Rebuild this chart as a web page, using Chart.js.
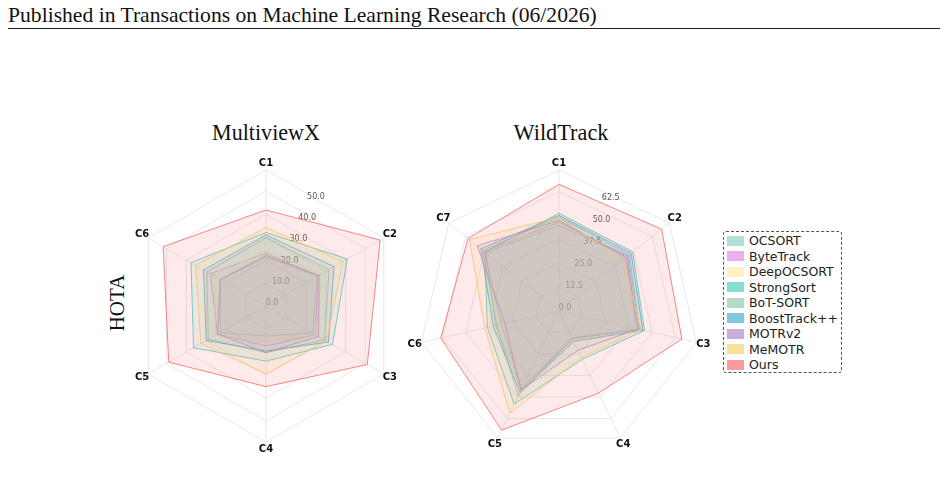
<!DOCTYPE html>
<html>
<head>
<meta charset="utf-8">
<script src="https://cdn.jsdelivr.net/npm/chart.js@4.4.1/dist/chart.umd.min.js"></script>
<style>
body { margin:0; width:948px; height:481px; background:#fff; position:relative; overflow:hidden; font-family:"DejaVu Sans", sans-serif; }
.abs { position:absolute; }
.serif { font-family:"Liberation Serif", serif; color:#111; white-space:nowrap; line-height:1; }
#head { left:8px; top:5px; font-size:20px; }
#rule { left:8px; top:28px; width:932px; height:1px; background:#222; }
#t1, #t2 { top:122px; font-size:22px; }
#hota { left:117px; top:303px; font-size:21px; transform:translate(-50%,-50%) rotate(-90deg); }
#legend { left:723px; top:231px; width:119px; height:142px; border:1px dashed #555; border-radius:3px; box-sizing:border-box; padding-top:1px; }
.item { display:flex; align-items:center; height:15.5px; font-size:12.5px; color:#222; }
.sw { width:17px; height:10px; margin:0 5px 0 3px; }
</style>
</head>
<body>
<div id="head" class="abs serif">Published in Transactions on Machine Learning Research (06/2026)</div>
<div id="rule" class="abs"></div>
<div id="t1" class="abs serif">MultiviewX</div>
<div id="t2" class="abs serif">WildTrack</div>
<div id="hota" class="abs serif">HOTA</div>
<canvas id="mvx" class="abs" style="left:90px;top:150px" width="350" height="320"></canvas>
<canvas id="wt" class="abs" style="left:400px;top:150px" width="320" height="320"></canvas>
<div id="legend" class="abs"></div>
<script>
// series + palette
const methods = ["OCSORT", "ByteTrack", "DeepOCSORT", "StrongSort", "BoT-SORT", "BoostTrack++", "MOTRv2", "MeMOTR", "Ours"];
const palette = ["#8dd3c7", "#e48ee4", "#fdeba8", "#52cec0", "#95c7b2", "#48b0d0", "#b28bcd", "#f1d66f", "#f97171"];

// MultiviewX (HOTA)
const mvxAxes = ["C1", "C2", "C3", "C4", "C5", "C6"];
const mvxTicks = [0, 10, 20, 30, 40, 50];
const mvxMax = 59.2;
const mvxOCSORT = [21.3, 25.9, 23.4, 13.1, 23.0, 23.0];
const mvxByteTrack = [23.0, 26.0, 25.0, 17.4, 24.4, 28.0];
const mvxDeepOCSORT = [24.1, 28.0, 25.0, 15.3, 25.5, 26.0];
const mvxStrongSort = [32.0, 40.9, 33.4, 24.0, 36.4, 37.7];
const mvxBoTSORT = [29.7, 31.7, 29.5, 20.3, 29.0, 29.7];
const mvxBoostTrack = [30.9, 34.2, 31.4, 19.6, 30.0, 31.4];
const mvxMOTRv2 = [22.0, 26.7, 26.4, 20.3, 24.4, 23.0];
const mvxMeMOTR = [34.2, 38.7, 30.5, 29.5, 32.7, 35.4];
const mvxOurs = [41.8, 57.4, 50.9, 35.1, 48.9, 51.7];

// WildTrack (HOTA)
const wtAxes = ["C1", "C2", "C3", "C4", "C5", "C6", "C7"];
const wtTicks = [0, 12.5, 25, 37.5, 50, 62.5];
const wtMax = 73.8;
const wtOCSORT = [44.8, 46.5, 43.0, 15.5, 45.5, 34.0, 49.0];
const wtByteTrack = [46.5, 46.0, 41.4, 16.5, 45.2, 31.0, 50.0];
const wtDeepOCSORT = [48.3, 44.0, 41.4, 16.8, 46.0, 33.0, 48.0];
const wtStrongSort = [51.2, 49.4, 45.9, 28.1, 54.1, 38.5, 49.6];
const wtBoTSORT = [49.1, 47.2, 43.2, 16.1, 49.3, 33.5, 51.1];
const wtBoostTrack = [50.0, 48.3, 45.0, 17.7, 47.2, 35.3, 52.3];
const wtMOTRv2 = [47.4, 45.0, 42.5, 22.8, 46.0, 29.1, 54.7];
const wtMeMOTR = [49.0, 42.7, 44.0, 26.9, 59.3, 39.8, 60.0];
const wtOurs = [66.3, 68.7, 66.0, 47.7, 69.2, 63.5, 60.9];

const mvxRows = [mvxOCSORT, mvxByteTrack, mvxDeepOCSORT, mvxStrongSort, mvxBoTSORT, mvxBoostTrack, mvxMOTRv2, mvxMeMOTR, mvxOurs];
const wtRows = [wtOCSORT, wtByteTrack, wtDeepOCSORT, wtStrongSort, wtBoTSORT, wtBoostTrack, wtMOTRv2, wtMeMOTR, wtOurs];

function rgba(hex, a) {
	const n = parseInt(hex.slice(1), 16);
	return "rgba(" + (n >> 16) + "," + ((n >> 8) & 255) + "," + (n & 255) + "," + a + ")";
}

// tick texts under the fills, axis names on top
const radarText = {
	id: "radarText",
	beforeDatasetsDraw(chart, args, opts) {
		const s = chart.scales.r, ctx = chart.ctx;
		const a = 22.5 * Math.PI / 180;
		ctx.save();
		ctx.font = '8px "DejaVu Sans"';
		ctx.fillStyle = "#555";
		ctx.textAlign = "center";
		ctx.textBaseline = "middle";
		opts.ticks.forEach(v => {
			const d = s.getDistanceFromCenterForValue(v);
			ctx.fillText(v.toFixed(1), s.xCenter + d * Math.sin(a) + 6, s.yCenter - d * Math.cos(a) - 3);
		});
		ctx.restore();
	},
	afterDraw(chart, args, opts) {
		const s = chart.scales.r, ctx = chart.ctx;
		ctx.save();
		ctx.font = 'bold 10px "DejaVu Sans"';
		ctx.fillStyle = "#111";
		ctx.textAlign = "center";
		ctx.textBaseline = "middle";
		chart.data.labels.forEach((lab, i) => {
			const p = s.getPointPosition(i, s.drawingArea + 7);
			ctx.fillText(lab, p.x, p.y);
		});
		ctx.restore();
	}
};

function radar(id, axes, rows, ticks, max, pad) {
	return new Chart(document.getElementById(id), {
		type: "radar",
		data: {
			labels: axes,
			datasets: rows.map((r, i) => ({
				label: methods[i],
				data: r,
				borderColor: rgba(palette[i], 0.85),
				backgroundColor: rgba(palette[i], i == 8 ? 0.15 : 0.12),
				borderWidth: 1,
				pointRadius: 0,
				fill: true,
				order: 9 - i
			}))
		},
		options: {
			responsive: false,
			animation: false,
			layout: { padding: pad },
			plugins: { legend: { display: false }, tooltip: { enabled: false }, radarText: { ticks: ticks } },
			scales: {
				r: {
					min: 0,
					max: max,
					afterBuildTicks: sc => { sc.ticks = ticks.concat([max]).map(v => ({ value: v })); },
					ticks: { display: false },
					pointLabels: { display: false },
					grid: { color: "#e2e2e2", lineWidth: 0.8 },
					angleLines: { color: "#e2e2e2", lineWidth: 0.8 }
				}
			}
		},
		plugins: [radarText]
	});
}

radar("mvx", mvxAxes, mvxRows, mvxTicks, mvxMax, { left: 40, top: 20, right: 37, bottom: 27 });
radar("wt", wtAxes, wtRows, wtTicks, wtMax, { left: 18, top: 20, right: 19, bottom: 17 });

// legend
const lg = document.getElementById("legend");
methods.forEach((m, i) => {
	const it = document.createElement("div");
	it.className = "item";
	it.innerHTML = '<span class="sw" style="background:' + rgba(palette[i], 0.7) + '"></span>' + m;
	lg.appendChild(it);
});

// size serif texts to the reference widths
function fit(id, w) {
	const el = document.getElementById(id);
	const fs = parseFloat(getComputedStyle(el).fontSize);
	el.style.fontSize = (fs * w / el.getBoundingClientRect().width) + "px";
}
fit("head", 589);
fit("t1", 108);
fit("t2", 95);
const t1 = document.getElementById("t1"), t2 = document.getElementById("t2");
t1.style.left = (266 - t1.getBoundingClientRect().width / 2) + "px";
t2.style.left = (561 - t2.getBoundingClientRect().width / 2) + "px";
</script>
</body>
</html>
